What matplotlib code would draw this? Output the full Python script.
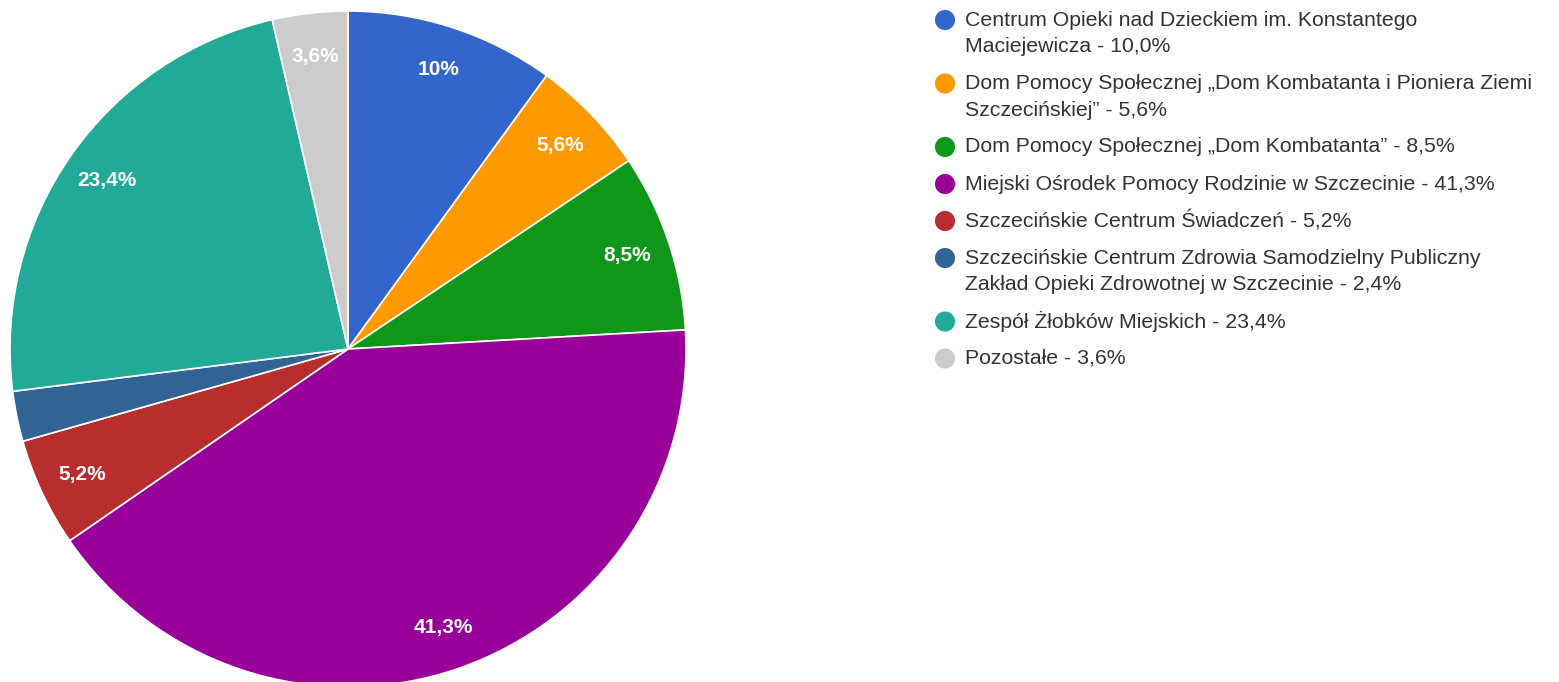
import textwrap
import matplotlib
matplotlib.use("Agg")
import matplotlib.pyplot as plt

# data
names = [
    "Centrum Opieki nad Dzieckiem im. Konstantego Maciejewicza",
    "Dom Pomocy Społecznej „Dom Kombatanta i Pioniera Ziemi Szczecińskiej”",
    "Dom Pomocy Społecznej „Dom Kombatanta”",
    "Miejski Ośrodek Pomocy Rodzinie w Szczecinie",
    "Szczecińskie Centrum Świadczeń",
    "Szczecińskie Centrum Zdrowia Samodzielny Publiczny Zakład Opieki Zdrowotnej w Szczecinie",
    "Zespół Żłobków Miejskich",
    "Pozostałe",
]
shares = [10.0, 5.6, 8.5, 41.3, 5.2, 2.4, 23.4, 3.6]
colors = ["#3366cc", "#ff9900", "#109618", "#990099",
          "#b82e2e", "#316395", "#22aa99", "#cccccc"]

plt.rcParams["font.family"] = ["Liberation Sans", "DejaVu Sans"]

W, H = 1559, 682
fig = plt.figure(figsize=(W / 100, H / 100), dpi=100)

# pie, centre (348, 349) px, radius 338 px
cx, cy, r = 348, 349, 338
ax = fig.add_axes([(cx - r) / W, (H - cy - r) / H, 2 * r / W, 2 * r / H])


def pct_label(v):
    if v < 3:
        return ""
    s = f"{v:.1f}".rstrip("0").rstrip(".")
    return s.replace(".", ",") + "%"


wedges, texts, autotexts = ax.pie(
    shares, colors=colors, startangle=90, counterclock=False,
    radius=1, autopct=pct_label, pctdistance=0.87,
    wedgeprops=dict(edgecolor="white", linewidth=1.2),
    textprops=dict(color="white", fontsize=15, fontweight="bold"),
)
ax.set_xlim(-1, 1)
ax.set_ylim(-1, 1)
ax.set_aspect("equal")
ax.axis("off")

# legend drawn on a pixel-space overlay
lg = fig.add_axes([0, 0, 1, 1])
lg.set_xlim(0, W)
lg.set_ylim(H, 0)
lg.axis("off")

y = 20
line_h = 26.5
for name, v, c in zip(names, shares, colors):
    label = f"{name} - " + f"{v:.1f}".replace(".", ",") + "%"
    lines = textwrap.wrap(label, 54)
    lg.scatter([945], [y], s=210, color=c, edgecolors="none")
    for i, ln in enumerate(lines):
        lg.text(965, y + i * line_h, ln, fontsize=15.3, color="#333333",
                va="center", ha="left")
    y += len(lines) * line_h + 10.5

fig.savefig("out.png", dpi=100)
